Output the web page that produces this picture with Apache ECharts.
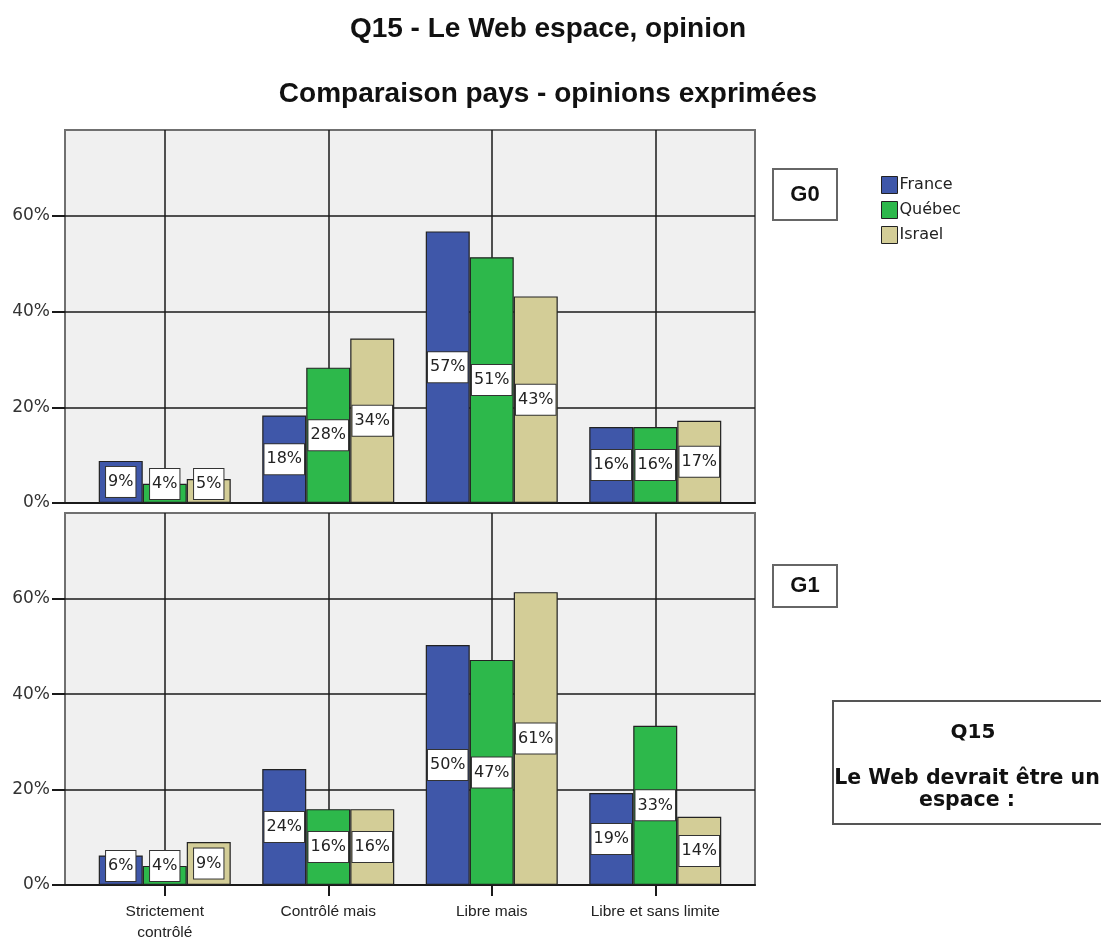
<!DOCTYPE html>
<html>
<head>
<meta charset="utf-8">
<script src="https://cdn.jsdelivr.net/npm/echarts@6/dist/echarts.min.js"></script>
<style>
  html, body { margin: 0; padding: 0; background: #fff; }
  #chart { width: 1101px; height: 937px; }
</style>
</head>
<body>
<div id="chart"></div>
<script>
// catégories et pays
const categories = ['Strictement\ncontrôlé', 'Contrôlé mais', 'Libre mais', 'Libre et sans limite']
const countries = ['France', 'Québec', 'Israel']
const colors = ['#3F57A9', '#2DB84B', '#D3CD97']
const yTicks = [0, 20, 40, 60]

// G0 (%)
const g0France = [8.8, 18.3, 56.8, 15.9]
const g0Quebec = [4.0, 28.3, 51.4, 15.9]
const g0Israel = [5.0, 34.4, 43.2, 17.2]
// G1 (%)
const g1France = [6.2, 24.3, 50.3, 19.3]
const g1Quebec = [4.0, 15.9, 47.2, 33.4]
const g1Israel = [9.0, 15.9, 61.4, 14.3]

const panels = [
  { name: 'G0', values: [g0France, g0Quebec, g0Israel] },
  { name: 'G1', values: [g1France, g1Quebec, g1Israel] }
]

const YMAX = 78
const FRAME = { left: 65, width: 690 }
const BARS = { left: 83, width: 654 }
const PANEL_TOPS = [{ top: 130, height: 373 }, { top: 513, height: 372 }]
const LABEL_FONT = 'DejaVu Sans'

const grid = []
const xAxis = []
const yAxis = []
const series = []

PANEL_TOPS.forEach((p, pi) => {
  const frameIdx = grid.length
  grid.push({
    left: FRAME.left, width: FRAME.width, top: p.top, height: p.height, outerBoundsMode: 'none',
    show: true, backgroundColor: '#F0F0F0', borderColor: '#707070', borderWidth: 2, z: 0
  })
  const barIdx = grid.length
  grid.push({ left: BARS.left, width: BARS.width, top: p.top, height: p.height, outerBoundsMode: 'none' })
  const axisY = p.top + p.height

  // cadre : axe 0 noir + graduations Y
  xAxis.push({
    type: 'value', gridIndex: frameIdx, min: 0, max: 1,
    axisLine: { show: true, lineStyle: { color: '#1a1a1a', width: 2 } },
    axisTick: { show: false }, axisLabel: { show: false }, splitLine: { show: false }
  })
  yAxis.push({
    type: 'value', gridIndex: frameIdx, min: 0, max: YMAX,
    axisLine: { show: false },
    axisTick: { show: true, length: 13, customValues: yTicks, lineStyle: { color: '#1a1a1a', width: 2 } },
    axisLabel: {
      customValues: yTicks, formatter: '{value}%', margin: 15,
      color: '#333', fontFamily: LABEL_FONT, fontSize: 17
    },
    splitLine: { show: true, lineStyle: { color: '#1a1a1a', width: 1.5 } }
  })

  // barres
  xAxis.push({
    type: 'category', gridIndex: barIdx, data: categories,
    axisLine: { show: false },
    axisTick: { show: pi === 1, alignWithLabel: true, interval: 0, length: 11, lineStyle: { color: '#1a1a1a', width: 2 } },
    axisLabel: {
      show: pi === 1, interval: 0, margin: 16, color: '#222', lineHeight: 21,
      fontFamily: 'Liberation Sans', fontSize: 15.5
    },
    splitLine: { show: false }
  })
  yAxis.push({ type: 'value', gridIndex: barIdx, min: 0, max: YMAX, show: false })

  countries.forEach((c, ci) => {
    const s = {
      name: c, type: 'bar', xAxisIndex: barIdx, yAxisIndex: barIdx,
      data: panels[pi].values[ci],
      barWidth: 44, barGap: '0%',
      itemStyle: { color: colors[ci], borderColor: '#222', borderWidth: 1.2 },
      label: {
        show: true, position: 'inside',
        formatter: (d) => Math.round(d.value) + '%',
        color: '#222', fontFamily: LABEL_FONT, fontSize: 16, lineHeight: 16,
        backgroundColor: '#fff', borderColor: '#333', borderWidth: 1, padding: [7, 2]
      },
      // étiquettes des petites barres remontées au-dessus de l'axe
      labelLayout: (lp) => {
        const over = lp.labelRect.y + lp.labelRect.height - (axisY - 3)
        return over > 0 ? { dy: -over } : {}
      }
    }
    // lignes verticales au centre des catégories (série du milieu = centre du groupe)
    if (ci === 1) {
      s.markLine = {
        silent: true, symbol: 'none', z: 1, animation: false,
        label: { show: false },
        lineStyle: { color: '#1a1a1a', width: 1.5, type: 'solid' },
        data: categories.map((_, i) => ({ xAxis: i }))
      }
    }
    series.push(s)
  })
})

function panelBox(text, x, y, w, h) {
  return {
    type: 'group', left: x, top: y,
    children: [
      { type: 'rect', shape: { x: 0, y: 0, width: w, height: h }, style: { fill: '#fff', stroke: '#666', lineWidth: 2 } },
      {
        type: 'text', x: w / 2, y: h / 2,
        style: { text, fill: '#111', font: 'bold 22px Liberation Sans', align: 'center', verticalAlign: 'middle' }
      }
    ]
  }
}

const option = {
  animation: false,
  backgroundColor: '#fff',
  title: [
    {
      text: 'Q15 - Le Web espace, opinion', left: 543, top: 10, textAlign: 'center',
      textStyle: { fontFamily: 'Liberation Sans', fontWeight: 'bold', fontSize: 28, color: '#111' }
    },
    {
      text: 'Comparaison pays - opinions exprimées', left: 543, top: 75, textAlign: 'center',
      textStyle: { fontFamily: 'Liberation Sans', fontWeight: 'bold', fontSize: 28, color: '#111' }
    }
  ],
  legend: {
    data: countries, orient: 'vertical', left: 876, top: 171,
    icon: 'rect', itemWidth: 16, itemHeight: 17, itemGap: 7, selectedMode: false,
    itemStyle: { borderColor: '#222', borderWidth: 1 },
    textStyle: { fontFamily: LABEL_FONT, fontSize: 16, color: '#222', padding: [0, 0, 0, -3] }
  },
  grid, xAxis, yAxis, series,
  graphic: [
    panelBox('G0', 772, 168, 64, 51),
    panelBox('G1', 772, 564, 64, 42),
    {
      type: 'group', left: 832, top: 700,
      children: [
        { type: 'rect', shape: { x: 0, y: 0, width: 300, height: 123 }, style: { fill: '#fff', stroke: '#555', lineWidth: 2 } },
        {
          type: 'text', x: 140, y: 32,
          style: { text: 'Q15', fill: '#111', font: 'bold 20px DejaVu Sans', align: 'center', verticalAlign: 'middle' }
        },
        {
          type: 'text', x: 134, y: 89,
          style: {
            text: 'Le Web devrait être un\nespace :', fill: '#111', font: 'bold 20.5px DejaVu Sans',
            lineHeight: 22, align: 'center', verticalAlign: 'middle'
          }
        }
      ]
    }
  ]
}

const chart = echarts.init(document.getElementById('chart'))
chart.setOption(option)
</script>
</body>
</html>
